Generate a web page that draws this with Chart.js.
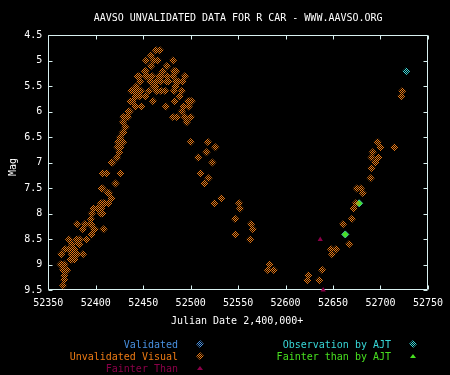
<!DOCTYPE html>
<html>
<head>
<meta charset="utf-8">
<script src="https://cdn.jsdelivr.net/npm/chart.js@4/dist/chart.umd.min.js"></script>
<style>
  html, body { margin: 0; padding: 0; background: #000; }
  canvas { display: block; }
</style>
</head>
<body>
<canvas id="c" width="450" height="375"></canvas>
<script>
// ---- data (Julian Date - 2,400,000 ; magnitude) ----
const titleText = "AAVSO UNVALIDATED DATA FOR R CAR - WWW.AAVSO.ORG";
const xTitle = "Julian Date 2,400,000+";
const yTitle = "Mag";
const xTicks = [52350, 52400, 52450, 52500, 52550, 52600, 52650, 52700, 52750];
const yTicks = [4.5, 5, 5.5, 6, 6.5, 7, 7.5, 8, 8.5, 9, 9.5];

const unvalJD = [
 52463.5,52467.7,52458.3,52453.1,52461.5,52465.5,52481.3,52458.3,52475.0,52451.8,
 52452.5,52470.8,52482.3,52484.4,52444.0,52445.5,52453.1,52454.0,52459.4,52466.7,
 52468.8,52475.0,52481.3,52493.8,52446.6,52457.3,52463.5,52468.8,52475.0,52476.7,
 52484.4,52486.5,52491.7,52442.7,52461.5,52463.5,52483.5,52484.5,52437.5,52439.8,
 52440.8,52445.5,52447.6,52456.0,52464.3,52468.8,52473.0,52482.3,52490.6,52441.9,
 52442.9,52446.6,52452.2,52488.5,52436.5,52438.5,52460.4,52483.3,52497.4,52498.4,
 52501.0,52441.4,52441.9,52447.9,52474.0,52492.7,52497.9,52434.6,52435.6,52490.6,
 52429.2,52432.8,52433.8,52481.3,52485.4,52493.8,52500.0,52428.5,52495.8,52431.3,
 52428.4,52429.4,52425.4,52423.6,52428.9,52500.0,52518.1,52422.9,52426.0,52526.0,
 52516.7,52424.7,52422.6,52507.7,52416.6,52417.6,52407.3,52411.5,52426.0,52420.8,
 52406.2,52407.2,52412.7,52413.7,52416.7,52405.6,52408.5,52409.5,52413.2,52397.6,
 52401.6,52402.6,52405.6,52395.8,52405.6,52407.3,52394.8,52380.2,52388.5,52394.3,
 52395.3,52386.5,52398.1,52399.1,52408.3,52395.8,52371.9,52380.2,52383.0,52390.6,
 52375.0,52381.8,52382.8,52367.7,52371.9,52376.3,52377.3,52363.5,52374.9,52375.9,
 52380.2,52386.5,52373.5,52374.5,52377.8,52363.0,52364.0,52367.0,52365.6,52369.8,
 52366.7,52366.7,52365.6,52522.9,52510.4,52518.8,52514.6,52532.3,52525.0,52551.0,
 52552.1,52546.9,52546.9,52563.5,52565.6,52562.5,52583.3,52581.3,52587.5,52624.0,
 52622.9,52638.5,52635.4,52647.9,52653.1,52649.0,52660.4,52667.1,52669.8,52671.9,
 52674.0,52675.0,52679.2,52681.3,52689.6,52690.6,52694.8,52690.6,52697.9,52691.7,
 52722.9,52721.9,52696.9,52700.0,52714.6
];
const unvalMag = [
 4.80,4.80,4.90,5.00,5.00,5.00,5.00,5.11,5.11,5.21,
 5.21,5.21,5.21,5.21,5.31,5.31,5.31,5.31,5.31,5.31,
 5.31,5.31,5.31,5.31,5.41,5.41,5.41,5.41,5.41,5.41,
 5.41,5.41,5.41,5.51,5.51,5.51,5.51,5.51,5.60,5.60,
 5.60,5.60,5.60,5.60,5.60,5.60,5.60,5.60,5.60,5.70,
 5.70,5.70,5.70,5.70,5.80,5.80,5.80,5.80,5.80,5.80,
 5.80,5.90,5.90,5.90,5.90,5.90,5.90,6.00,6.00,6.00,
 6.11,6.11,6.11,6.11,6.11,6.11,6.11,6.21,6.21,6.31,
 6.41,6.41,6.51,6.60,6.60,6.60,6.60,6.70,6.70,6.70,
 6.80,6.80,6.90,6.90,7.00,7.00,7.21,7.21,7.21,7.41,
 7.51,7.51,7.60,7.60,7.70,7.80,7.80,7.80,7.80,7.90,
 7.90,7.90,7.90,8.00,8.00,8.00,8.11,8.21,8.21,8.21,
 8.21,8.31,8.31,8.31,8.31,8.41,8.51,8.51,8.51,8.51,
 8.60,8.60,8.60,8.70,8.70,8.70,8.70,8.80,8.80,8.80,
 8.80,8.80,8.90,8.90,8.90,9.00,9.00,9.00,9.11,9.11,
 9.22,9.30,9.41,7.00,7.21,7.31,7.41,7.70,7.80,7.80,
 7.90,8.11,8.41,8.21,8.31,8.51,9.00,9.11,9.11,9.21,
 9.31,9.11,9.31,8.70,8.70,8.80,8.21,8.60,8.11,7.90,
 7.80,7.51,7.51,7.60,7.31,7.11,7.00,6.90,6.90,6.80,
 5.60,5.70,6.60,6.70,6.70
];
const fainterJD = [52636.5, 52639.6];
const fainterMag = [8.51, 9.50];
const ajtObsJD = [52727.1];
const ajtObsMag = [5.21];
const ajtGreenJD = [52662.9, 52677.5];
const ajtGreenMag = [8.41, 7.80];

// legend entries
const legendLabels = ["Validated", "Unvalidated Visual", "Fainter Than", "Observation by AJT", "Fainter than by AJT"];

// ---- build ----
const pts = (xs, ys) => xs.map((x, i) => ({ x: x, y: ys[i] }));
const FONT = "'DejaVu Sans Mono', 'Liberation Mono', monospace";
const C_ORANGE = '#ec7a14';
const C_BLUE = '#4890e0';
const C_MAROON = '#8a0048';
const C_CYAN = '#38d8d8';
const C_GREEN = '#48e020';
const C_FRAME = '#d8f0f0';

function checker(color) {
  const c = document.createElement('canvas');
  c.width = 2; c.height = 2;
  const g = c.getContext('2d');
  g.fillStyle = color;
  g.fillRect(0, 0, 1, 1);
  g.fillRect(1, 1, 1, 1);
  return document.getElementById('c').getContext('2d').createPattern(c, 'repeat');
}
const P_ORANGE = checker(C_ORANGE);
const P_CYAN = checker(C_CYAN);
const P_BLUE = checker(C_BLUE);

function drawMarker(ctx, shape, x, y, fill) {
  ctx.save();
  ctx.fillStyle = fill;
  ctx.beginPath();
  if (shape === 'diamond') {
    ctx.moveTo(x - 4, y); ctx.lineTo(x, y - 4); ctx.lineTo(x + 4, y); ctx.lineTo(x, y + 4); ctx.closePath();
    ctx.fill();
  } else {
    ctx.moveTo(x - 3, y + 2); ctx.lineTo(x, y - 2); ctx.lineTo(x + 3, y + 2); ctx.closePath();
    ctx.fill();
  }
  ctx.restore();
}

const framePlugin = {
  id: 'frame',
  beforeDatasetsDraw(chart) {
    const ctx = chart.ctx, a = chart.chartArea;
    const xs = chart.scales.x, ys = chart.scales.y;
    ctx.save();
    ctx.strokeStyle = C_FRAME; ctx.lineWidth = 1;
    const L = Math.round(a.left) + 0.5, R = Math.round(a.right) - 0.5;
    const T = Math.round(a.top) + 0.5, B = Math.round(a.bottom) - 0.5;
    ctx.beginPath();
    ctx.rect(L, T, R - L, B - T);
    xTicks.forEach(v => {
      const px = Math.round(xs.getPixelForValue(v)) + 0.5;
      ctx.moveTo(px, T); ctx.lineTo(px, T + 4);
      ctx.moveTo(px, B); ctx.lineTo(px, B - 4);
    });
    yTicks.forEach(v => {
      const py = Math.round(ys.getPixelForValue(v)) + 0.5;
      ctx.moveTo(L, py); ctx.lineTo(L + 4, py);
      ctx.moveTo(R, py); ctx.lineTo(R - 4, py);
    });
    ctx.stroke();
    ctx.restore();
  },
  afterDraw(chart) {
    const ctx = chart.ctx, a = chart.chartArea;
    ctx.save();
    ctx.font = "10px " + FONT;
    ctx.textBaseline = 'middle';
    // title
    ctx.fillStyle = '#ffffff';
    ctx.textAlign = 'center';
    ctx.fillText(titleText, (a.left + a.right) / 2, 18);
    // x title
    ctx.fillText(xTitle, (a.left + a.right) / 2 - 1, 321);
    // y title
    ctx.save();
    ctx.translate(13, 167);
    ctx.rotate(-Math.PI / 2);
    ctx.fillText(yTitle, 0, 0);
    ctx.restore();
    // legend
    ctx.textAlign = 'right';
    const rows = [
      [legendLabels[0], C_BLUE, 178, 345, 'diamond', 200, P_BLUE],
      [legendLabels[1], C_ORANGE, 178, 357, 'diamond', 200, P_ORANGE],
      [legendLabels[2], C_MAROON, 178, 369, 'triangle', 200, C_MAROON],
      [legendLabels[3], C_CYAN, 391, 345, 'diamond', 413, P_CYAN],
      [legendLabels[4], C_GREEN, 391, 357, 'triangle', 413, C_GREEN]
    ];
    rows.forEach(r => {
      ctx.fillStyle = r[1];
      ctx.fillText(r[0], r[2], r[3]);
      drawMarker(ctx, r[4], r[5], r[3] - 1, r[6]);
    });
    ctx.restore();
  }
};

new Chart(document.getElementById('c'), {
  type: 'scatter',
  data: {
    datasets: [
      { label: legendLabels[1], data: pts(unvalJD, unvalMag), pointStyle: 'rectRot', pointRadius: 4,
        backgroundColor: P_ORANGE, borderColor: 'rgba(0,0,0,0)', borderWidth: 0, clip: false },
      { label: legendLabels[2], data: pts(fainterJD, fainterMag), pointStyle: 'triangle', pointRadius: 3,
        backgroundColor: C_MAROON, borderColor: C_MAROON, borderWidth: 0, clip: false },
      { label: legendLabels[3], data: pts(ajtObsJD, ajtObsMag), pointStyle: 'rectRot', pointRadius: 4,
        backgroundColor: P_CYAN, borderColor: 'rgba(0,0,0,0)', borderWidth: 0, clip: false },
      { label: legendLabels[4], data: pts(ajtGreenJD, ajtGreenMag), pointStyle: 'rectRot', pointRadius: 3.5,
        backgroundColor: C_GREEN, borderColor: '#40c8a0', borderWidth: 1, clip: false }
    ]
  },
  options: {
    responsive: false,
    animation: false,
    devicePixelRatio: 1,
    layout: { padding: { top: 35, right: 17.7, left: 0, bottom: 0 } },
    plugins: { legend: { display: false }, title: { display: false }, tooltip: { enabled: false } },
    scales: {
      x: {
        type: 'linear', min: 52350, max: 52750,
        afterFit(s) { s.height = 85; },
        afterBuildTicks(s) { s.ticks = xTicks.map(v => ({ value: v })); },
        grid: { display: false, drawTicks: false },
        border: { display: false },
        ticks: { color: '#ffffff', font: { family: FONT, size: 10 }, padding: 7, maxRotation: 0, autoSkip: false,
                 callback: v => String(v) },
        title: { display: false }
      },
      y: {
        type: 'linear', min: 4.5, max: 9.5, reverse: true,
        afterFit(s) { s.width = 48.3; },
        afterBuildTicks(s) { s.ticks = yTicks.map(v => ({ value: v })); },
        grid: { display: false, drawTicks: false },
        border: { display: false },
        ticks: { color: '#ffffff', font: { family: FONT, size: 10 }, padding: 6, autoSkip: false,
                 callback: v => String(v) }
      }
    }
  },
  plugins: [framePlugin]
});
</script>
</body>
</html>
